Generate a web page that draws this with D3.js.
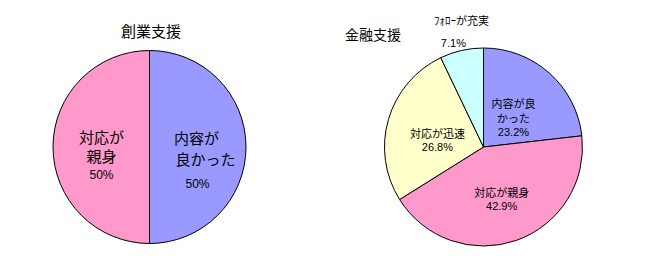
<!DOCTYPE html>
<html><head><meta charset="utf-8">
<script src="https://cdn.jsdelivr.net/npm/d3@7"></script>
<style>
body{margin:0;background:#fff;}
text{font-family:"Noto Sans CJK JP","MS PGothic",sans-serif;fill:#000;}
.pct{font-family:"Liberation Sans",Arial,sans-serif;}
</style></head>
<body><svg id="c" width="646" height="272"></svg>
<script>
// ---- data ----
const sogyoCategories = ["内容が良かった", "対応が親身"];
const sogyoValues = [50, 50];
const sogyoLabels = [["内容が", "良かった", "50%"], ["対応が", "親身", "50%"]];

const kinyuCategories = ["内容が良かった", "対応が親身", "対応が迅速", "ﾌｫﾛｰが充実"];
const kinyuValues = [23.2, 42.9, 26.8, 7.1];
const kinyuLabels = [["内容が良", "かった", "23.2%"], ["対応が親身", "42.9%"], ["対応が迅速", "26.8%"], ["ﾌｫﾛｰが充実", "7.1%"]];

const colorMap = {"内容が良かった": "#9999FF", "対応が親身": "#FF99CC", "対応が迅速": "#FFFFCC", "ﾌｫﾛｰが充実": "#CCFFFF"};

const svg = d3.select("#c");

function drawPie(opt) {
  const g = svg.append("g").attr("transform", `translate(${opt.cx},${opt.cy})`);
  const pie = d3.pie().sort(null).value(d => d.v);
  const data = opt.cats.map((c, i) => ({c, v: opt.vals[i], lines: opt.labels[i]}));
  const arcs = pie(data);
  const arc = d3.arc().innerRadius(0).outerRadius(opt.r);
  g.selectAll("path").data(arcs).join("path")
    .attr("d", arc)
    .attr("fill", d => colorMap[d.data.c])
    .attr("stroke", "#000").attr("stroke-width", 1);
  arcs.forEach((a, i) => {
    const L = opt.layout[i];
    const mid = (a.startAngle + a.endAngle) / 2;
    const x = Math.sin(mid) * L.lr + (L.dx || 0);
    const y = -Math.cos(mid) * L.lr + (L.dy || 0);
    a.data.lines.forEach((ln, j) => {
      const isPct = /%$/.test(ln);
      g.append("text").attr("text-anchor", "middle")
        .attr("class", isPct ? "pct" : null)
        .attr("x", x + (L.lx ? L.lx[j] : 0)).attr("y", y + L.ly[j])
        .attr("dominant-baseline", "central")
        .style("font-size", (L.fs ? L.fs[j] : opt.fs) + "px")
        .text(ln);
    });
  });
  svg.append("text").attr("x", opt.tx).attr("y", opt.ty).attr("text-anchor", "middle")
    .attr("dominant-baseline", "central").style("font-size", opt.tfs + "px").text(opt.title);
}

drawPie({
  cx: 149.5, cy: 147, r: 96.5, fs: 15, title: "創業支援", tx: 151, ty: 30, tfs: 15,
  cats: sogyoCategories, vals: sogyoValues, labels: sogyoLabels,
  layout: [
    {lr: 48, dy: 13, ly: [-23, -2, 24], lx: [-1, 8, 0], fs: [15, 15, 12]},
    {lr: 48, dy: 8.5, ly: [-19, 0, 19], fs: [15, 15, 12]}
  ]
});

drawPie({
  cx: 483.5, cy: 147, r: 99, fs: 11, title: "金融支援", tx: 373, ty: 34, tfs: 14,
  cats: kinyuCategories, vals: kinyuValues, labels: kinyuLabels,
  layout: [
    {lr: 42, dx: 2, dy: 2, ly: [-14.5, 0, 14]},
    {lr: 55, ly: [-7, 7]},
    {lr: 48, dy: 6, ly: [-7, 7]},
    {lr: 118, dx: -4, ly: [-11.5, 11.5], lx: [8, 0]}
  ]
});
</script></body></html>
